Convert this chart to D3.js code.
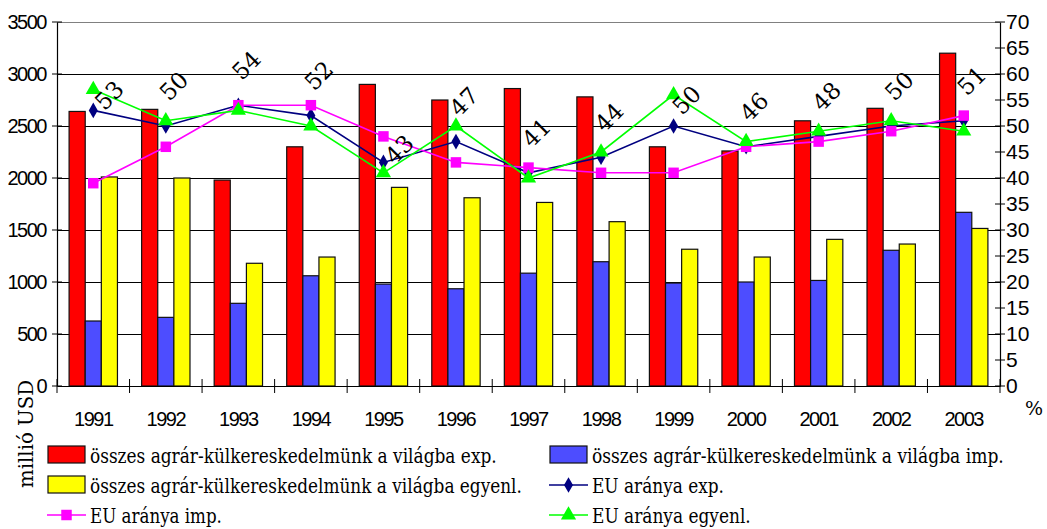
<!DOCTYPE html>
<html><head><meta charset="utf-8">
<script src="https://cdn.jsdelivr.net/npm/d3@7"></script>
<style>
html,body{margin:0;padding:0;background:#fff;}
svg{display:block;}
</style></head>
<body>
<svg id="chart" width="1047" height="529"></svg>
<script>
const years = ['1991','1992','1993','1994','1995','1996','1997','1998','1999','2000','2001','2002','2003'];
const expTotal = [2640,2660,1980,2300,2900,2750,2860,2780,2300,2260,2550,2670,3200];
const impTotal = [625,660,795,1060,980,935,1085,1195,990,1000,1015,1305,1670];
const balTotal = [2010,2000,1180,1240,1910,1810,1765,1580,1315,1240,1410,1365,1515];
const euExp = [53,50,54,52,43,47,41,44,50,46,48,50,51];
const euImp = [39,46,54,54,48,43,42,41,41,46,47,49,52];
const euBal = [57,51,53,50,41,50,40,45,56,47,49,51,49];
const leftTicks = [0,500,1000,1500,2000,2500,3000,3500];
const rightTicks = [0,5,10,15,20,25,30,35,40,45,50,55,60,65,70];
const barNames = ['összes agrár-külkereskedelmünk a világba exp.','összes agrár-külkereskedelmünk a világba imp.','összes agrár-külkereskedelmünk a világba egyenl.'];
const lineNames = ['EU aránya exp.','EU aránya imp.','EU aránya egyenl.'];
const yLeftTitle = 'millió USD';
const yRightTitle = '%';

// layout / style (not data)
const L = 57, R = 1000, T = 22, B = 386;
const labelShift = {0:[16,-15], 4:[16,-13], 8:[13,-26]};
const defShift = [8,-40];
const SERIF = 'DejaVu Serif';
const SANS = 'Liberation Sans';

const svg = d3.select('#chart');

const x0 = d3.scaleBand().domain(years).range([L,R]).paddingInner(0).paddingOuter(0);
const bw = x0.bandwidth();
const barW = bw/4.5;
const x1 = d3.scaleBand().domain([0,1,2]).range([(bw-3*barW)/2,(bw+3*barW)/2]).padding(0);
const yL = d3.scaleLinear().domain([0,3500]).range([B,T]);
const yR = d3.scaleLinear().domain([0,70]).range([B,T]);

// grid
svg.append('g').selectAll('line').data(leftTicks.filter(v=>v>0)).join('line')
  .attr('x1',L).attr('x2',R).attr('y1',d=>yL(d)).attr('y2',d=>yL(d))
  .attr('stroke',d=>d===3500?'#808080':'#000').attr('stroke-width',1).attr('shape-rendering','crispEdges');

// bars
const seriesBars = [expTotal, impTotal, balTotal];
const barFills = ['#ff0000','#4d4dff','#ffff00'];
seriesBars.forEach((arr,si)=>{
  svg.append('g').selectAll('rect').data(arr).join('rect')
    .attr('x',(d,i)=>x0(years[i])+x1(si))
    .attr('y',d=>yL(d))
    .attr('width',x1.bandwidth())
    .attr('height',d=>yL(0)-yL(d))
    .attr('fill',barFills[si]).attr('stroke','#111').attr('stroke-width',1.2);
});

// axes
const axL = svg.append('g').attr('transform',`translate(${L},0)`)
  .call(d3.axisLeft(yL).tickValues(leftTicks).tickSize(0).tickPadding(11).tickFormat(d3.format('d')));
const axR = svg.append('g').attr('transform',`translate(${R},0)`)
  .call(d3.axisRight(yR).tickValues(rightTicks).tickSize(0).tickPadding(6).tickFormat(d3.format('d')));
const axB = svg.append('g').attr('transform',`translate(0,${B})`)
  .call(d3.axisBottom(x0).tickSize(0).tickPadding(26));
[axL,axR,axB].forEach(a=>{a.select('.domain').attr('stroke','#000').attr('stroke-width',1.2); a.attr('font-family',SANS).attr('font-size',null);});
axL.selectAll('text').attr('font-size',20).attr('letter-spacing','-1.5px').attr('fill','#000');
axR.selectAll('text').attr('font-size',21).attr('fill','#000');
axB.selectAll('text').attr('font-size',20).attr('letter-spacing','-1.5px').attr('fill','#000');
// cross ticks
svg.append('g').selectAll('line').data(leftTicks).join('line')
  .attr('x1',L-5).attr('x2',L+5).attr('y1',d=>yL(d)).attr('y2',d=>yL(d)).attr('stroke','#000');
svg.append('g').selectAll('line').data(rightTicks).join('line')
  .attr('x1',R-5).attr('x2',R+5).attr('y1',d=>yR(d)).attr('y2',d=>yR(d)).attr('stroke','#000');
const bTicks = years.map(y=>x0(y)).concat([R]);
svg.append('g').selectAll('line').data(bTicks).join('line')
  .attr('x1',d=>d).attr('x2',d=>d).attr('y1',B-7).attr('y2',B+7).attr('stroke','#000');

// lines
const cx = i => x0(years[i]) + bw/2;
const lineSeries = [
  {data:euExp,color:'#000080',sym:d3.symbolDiamond,size:70},
  {data:euImp,color:'#ff00ff',sym:d3.symbolSquare,size:110},
  {data:euBal,color:'#00ff00',sym:d3.symbolTriangle,size:100}
];
const lineGen = d3.line().x((d,i)=>cx(i)).y(d=>yR(d));
lineSeries.forEach(s=>{
  svg.append('path').datum(s.data).attr('d',lineGen).attr('fill','none').attr('stroke',s.color).attr('stroke-width',1.6);
});
lineSeries.forEach(s=>{
  svg.append('g').selectAll('path').data(s.data).join('path')
    .attr('d',d3.symbol().type(s.sym).size(s.size))
    .attr('transform',(d,i)=>`translate(${cx(i)},${yR(d)})`)
    .attr('fill',s.color);
});

// data labels
svg.append('g').attr('font-family',SERIF).selectAll('text').data(euExp).join('text')
  .attr('transform',(d,i)=>{const sh=labelShift[i]||defShift; return `translate(${cx(i)+sh[0]},${yR(d)+sh[1]}) rotate(-45)`;})
  .attr('text-anchor','middle').attr('dy','0.35em')
  .attr('font-size',23).attr('fill','#000')
  .text(d=>d);

// place text and squeeze it horizontally to the width measured on the reference
function placeScaled(sel, pre, w){
  const len = sel.node().getComputedTextLength();
  const k = Math.min(1, w/len);
  sel.attr('transform', `${pre} scale(${k},1)`);
}

// axis titles
const yt = svg.append('text').attr('font-family',SERIF).attr('text-anchor','middle')
  .attr('font-size',20).attr('fill','#000').text(yLeftTitle);
placeScaled(yt,'translate(33,434) rotate(-90)',108);
svg.append('text').attr('font-family',SERIF).attr('x',1034).attr('y',415).attr('text-anchor','middle')
  .attr('font-size',19).attr('fill','#000').text(yRightTitle);

// legend
const legItems = [
  {type:'bar',si:0,name:barNames[0],col:0,row:0,w:407},
  {type:'bar',si:1,name:barNames[1],col:1,row:0,w:412},
  {type:'bar',si:2,name:barNames[2],col:0,row:1,w:432},
  {type:'line',s:lineSeries[0],name:lineNames[0],col:1,row:1,w:132},
  {type:'line',s:lineSeries[1],name:lineNames[1],col:0,row:2,w:132},
  {type:'line',s:lineSeries[2],name:lineNames[2],col:1,row:2,w:159}
];
const colX = [48,550], rowBase = [463,493,523];
const leg = svg.append('g').attr('font-family',SERIF);
legItems.forEach(it=>{
  const gx = colX[it.col], by = rowBase[it.row];
  if(it.type==='bar'){
    leg.append('rect').attr('x',gx).attr('y',by-17).attr('width',37).attr('height',17)
      .attr('fill',barFills[it.si]).attr('stroke','#111').attr('stroke-width',1.2);
  } else {
    const ly = by-8;
    leg.append('line').attr('x1',gx-1).attr('x2',gx+38).attr('y1',ly).attr('y2',ly).attr('stroke',it.s.color).attr('stroke-width',1.6);
    leg.append('path').attr('d',d3.symbol().type(it.s.sym).size(it.s.size)).attr('transform',`translate(${gx+18.5},${ly})`).attr('fill',it.s.color);
  }
  const t = leg.append('text').attr('x',0).attr('y',0)
    .attr('font-size',20).attr('fill','#000').text(it.name);
  placeScaled(t, `translate(${gx+42},${by})`, it.w);
});
</script>
</body></html>
